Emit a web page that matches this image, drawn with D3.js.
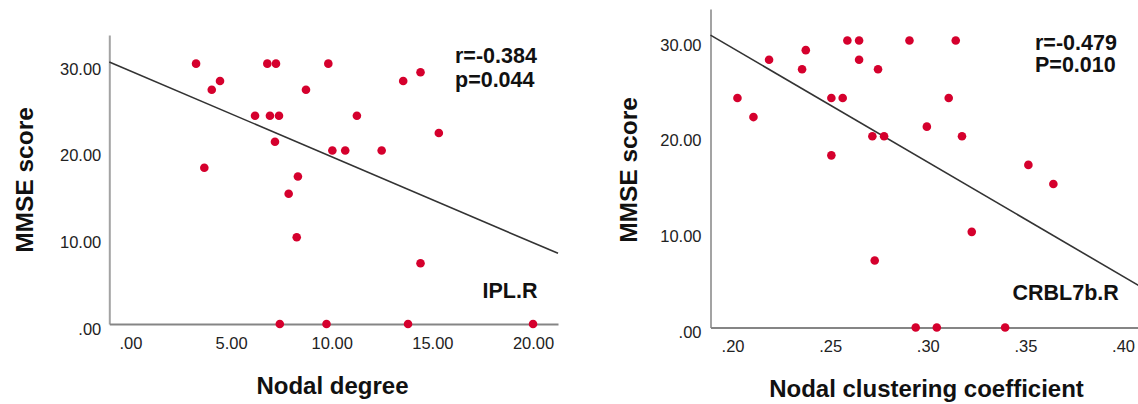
<!DOCTYPE html>
<html>
<head>
<meta charset="utf-8">
<script src="https://cdn.jsdelivr.net/npm/d3@7.9.0/dist/d3.min.js"></script>
<style>
  html, body { margin: 0; padding: 0; background: #fff; }
  svg { display: block; font-family: "Liberation Sans", Arial, sans-serif; }
</style>
</head>
<body>
<div id="chart"></div>
<script>
// Left panel: nodal degree vs MMSE (IPL.R)
const degree = [3.26, 6.80, 7.23, 9.83, 4.45, 4.04, 8.72, 6.19, 6.93, 7.38, 11.25, 7.18, 3.67,
  10.03, 10.67, 12.48, 8.32, 7.86, 8.26, 14.41, 15.32, 13.55, 14.41, 7.42, 9.74, 13.79, 20.0];
const mmseLeft = [30, 30, 30, 30, 28, 27, 27, 24, 24, 24, 24, 21, 18,
  20, 20, 20, 17, 15, 10, 7, 22, 28, 29, 0, 0, 0, 0];
const fitLeft = [[-1.05, 30.2], [21.24, 8.14]];
const degreeTicks = [0, 5, 10, 15, 20];

// Right panel: nodal clustering coefficient vs MMSE (CRBL7b.R)
const clustering = [0.2025, 0.2107, 0.2187, 0.2356, 0.2375, 0.2506, 0.2564, 0.2588, 0.2648, 0.2648,
  0.2745, 0.2506, 0.2716, 0.2776, 0.2906, 0.2995, 0.3107, 0.3143, 0.3175, 0.3515, 0.3643,
  0.2728, 0.3225, 0.2938, 0.3046, 0.3396];
const mmseRight = [24, 22, 28, 27, 29, 24, 24, 30, 30, 28,
  27, 18, 20, 20, 30, 21, 24, 30, 20, 17, 15,
  7, 10, 0, 0, 0];
const fitRight = [[0.1887, 30.57], [0.41, 4.15]];
const clusterTicks = [0.20, 0.25, 0.30, 0.35, 0.40];

const mmseTicks = [0, 10, 20, 30];

const width = 1138;
const height = 404;
const dotColor = '#d5002d';

const svg = d3.select('#chart')
  .append('svg')
  .attr('width', width)
  .attr('height', height);

// ".00" style labels like SPSS
const fmt = (d) => d3.format('.2f')(d).replace(/^0\./, '.');

function drawPanel(p) {
  const x = d3.scaleLinear().domain(p.xDomain).range(p.xRange);
  const y = d3.scaleLinear().domain([0, 33.3]).range(p.yRange);
  const g = svg.append('g');

  // y axis
  const yAxis = g.append('g')
    .attr('transform', `translate(${p.xRange[0]},0)`)
    .call(d3.axisLeft(y).tickValues(mmseTicks).tickSize(0).tickSizeOuter(0)
      .tickPadding(p.yPad).tickFormat(fmt));
  yAxis.select('.domain').attr('stroke', '#a3a3a3').attr('stroke-width', 2);
  yAxis.selectAll('text')
    .attr('dy', null)
    .attr('y', p.yLabelShift)
    .attr('font-size', 16.5)
    .attr('font-family', '"Liberation Sans", Arial, sans-serif')
    .attr('fill', '#222');

  // x axis
  const xAxis = g.append('g')
    .attr('transform', `translate(0,${p.yRange[0]})`)
    .call(d3.axisBottom(x).tickValues(p.xTicks).tickSize(0).tickSizeOuter(0)
      .tickPadding(0).tickFormat(fmt));
  xAxis.select('.domain').attr('stroke', '#858585').attr('stroke-width', 2);
  xAxis.selectAll('text')
    .attr('dy', null)
    .attr('y', p.xLabelShift)
    .attr('font-size', 16.5)
    .attr('font-family', '"Liberation Sans", Arial, sans-serif')
    .attr('fill', '#222');

  // fit line
  g.append('path')
    .datum(p.fit)
    .attr('fill', 'none')
    .attr('stroke', '#333')
    .attr('stroke-width', 1.6)
    .attr('d', d3.line().x((d) => x(d[0])).y((d) => y(d[1])));

  // dots
  g.append('g')
    .selectAll('circle')
    .data(p.xs.map((v, i) => [v, p.ys[i]]))
    .join('circle')
    .attr('cx', (d) => x(d[0]))
    .attr('cy', (d) => y(d[1]))
    .attr('r', 4.3)
    .attr('fill', dotColor);

  // titles
  g.append('text')
    .attr('x', p.xTitle[0]).attr('y', p.xTitle[1])
    .attr('text-anchor', 'middle')
    .attr('font-size', 24)
    .attr('font-weight', 'bold')
    .attr('fill', '#111')
    .text(p.xLabel);

  g.append('text')
    .attr('transform', `translate(${p.yTitle[0]},${p.yTitle[1]}) rotate(-90)`)
    .attr('text-anchor', 'middle')
    .attr('font-size', 24.5)
    .attr('font-weight', 'bold')
    .attr('fill', '#111')
    .text('MMSE score');

  // stats and region label
  const stats = g.append('text')
    .attr('font-size', 21.5)
    .attr('font-weight', 'bold')
    .attr('fill', '#111');
  p.stats.forEach((s, i) => {
    stats.append('tspan')
      .attr('x', p.statsPos[0])
      .attr('y', p.statsPos[1] + i * p.statsGap)
      .text(s);
  });

  g.append('text')
    .attr('x', p.regionPos[0]).attr('y', p.regionPos[1])
    .attr('font-size', 21.5)
    .attr('font-weight', 'bold')
    .attr('fill', '#111')
    .text(p.region);
}

drawPanel({
  xs: degree, ys: mmseLeft, fit: fitLeft, xTicks: degreeTicks,
  xDomain: [-1.05, 21.24], xRange: [109.3, 558], yRange: [324, 35],
  yPad: 8, yLabelShift: 10.5, xLabelShift: 25,
  xLabel: 'Nodal degree', xTitle: [332.5, 394], yTitle: [33, 180],
  stats: ['r=-0.384', 'p=0.044'], statsPos: [455, 63], statsGap: 23.5,
  region: 'IPL.R', regionPos: [482.5, 298]
});

drawPanel({
  xs: clustering, ys: mmseRight, fit: fitRight, xTicks: clusterTicks,
  xDomain: [0.1887, 0.41], xRange: [710.5, 1142.6], yRange: [327.5, 9],
  yPad: 9, yLabelShift: 9.5, xLabelShift: 24.5,
  xLabel: 'Nodal clustering coefficient', xTitle: [926.5, 397], yTitle: [637, 170],
  stats: ['r=-0.479', 'P=0.010'], statsPos: [1035, 49.5], statsGap: 22.5,
  region: 'CRBL7b.R', regionPos: [1012.5, 300]
});
</script>
</body>
</html>
